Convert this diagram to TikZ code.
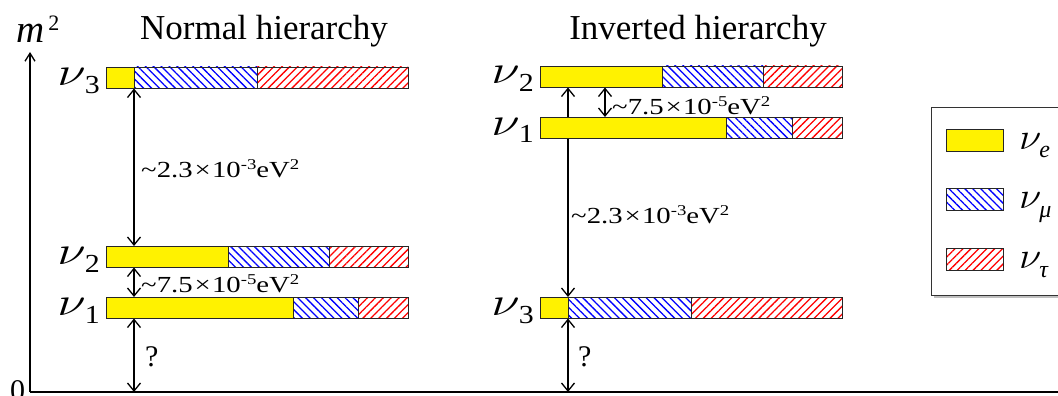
\RequirePackage{fix-cm}
\documentclass[tikz,border=0pt]{standalone}
\usepackage{fontspec}
\setmainfont{Liberation Serif}
\usetikzlibrary{arrows.meta,patterns.meta,backgrounds}
\newcommand\nusym[2]{\scalebox{#2}[1]{\fontsize{#1}{#1}\selectfont$\nu$}}
\newcommand\nulab[1]{\nusym{40}{1.3}\kern-1pt\raisebox{-8pt}{\scalebox{1.15}[1]{\fontsize{26}{30}\selectfont #1}}}
\newcommand\nuleg[1]{\nusym{37}{1.1}\kern-2pt\raisebox{-9pt}{\fontsize{24}{30}\selectfont\itshape #1}}
\newcommand\dmsq[2]{\scalebox{1.25}[1]{\textasciitilde#1\kern1.5pt×\kern1pt10\raisebox{8pt}{\fontsize{15}{18}\selectfont -#2}eV\raisebox{8pt}{\fontsize{15}{18}\selectfont 2}}}
\newcommand\mixbar[6]{%
  \path[yfill] (#2,#3) rectangle (#4,#3+21.5);
  \path[mufill] (#4,#3) rectangle (#5,#3+21.5);
  \path[taufill] (#5,#3) rectangle (#6,#3+21.5);
  \draw[divline] (#4,#3) -- (#4,#3+21.5);
  \draw[divline] (#5,#3) -- (#5,#3+21.5);
  \node[barframe, minimum width={#6pt-#2pt}] (#1) at (#2,#3) {};%
}
\begin{document}
\begin{tikzpicture}[x=1pt,y=-1pt,
  yfill/.style={fill=yellow},
  mufill/.style={pattern={Lines[angle=-45,distance=5.6pt,line width=1.3pt]},pattern color=blue},
  taufill/.style={pattern={Lines[angle=45,distance=5.6pt,line width=1.3pt]},pattern color=red},
  barframe/.style={draw=black!85,line width=0.9pt,inner sep=0pt,outer sep=0pt,anchor=north west,minimum height=21.5pt},
  divline/.style={draw=black!85,line width=0.9pt},
  dbl/.style={{Straight Barb[length=8pt,width=13pt,line width=1.3pt]}-{Straight Barb[length=8pt,width=13pt,line width=1.3pt]},line width=1.3pt},
  axis/.style={line width=1.8pt},
  title/.style={font=\fontsize{35}{40}\selectfont,inner sep=0pt},
  lab/.style={font=\fontsize{23}{28}\selectfont,inner sep=0pt,anchor=base west},
  nul/.style={inner sep=0pt,anchor=base east},
  legsw/.style={draw=black!85,line width=0.9pt,inner sep=0pt,minimum width=57pt,minimum height=21.5pt,anchor=north west}
]
\useasboundingbox (0,0) rectangle (1058,396);

% axes
\coordinate (O) at (30,392);
\coordinate (Ytop) at (30,52);
\coordinate (Xend) at (1060,392);
\draw[axis,-{Straight Barb[length=8pt,width=10pt,line width=1.3pt]}] (O) -- (Ytop);
\draw[axis] (O) -- (Xend);
\node[inner sep=0pt,anchor=base west] (m2) at (16,43) {{\fontsize{39}{42}\selectfont\itshape m}\kern4pt\raisebox{13pt}{\fontsize{22}{24}\selectfont 2}};
\node[inner sep=0pt,anchor=north,font=\fontsize{30}{34}\selectfont] (zero) at (17.5,380) {0};

% titles
\node[title,anchor=base] (tn) at (264,40) {Normal hierarchy};
\node[title,anchor=base] (ti) at (698,40) {Inverted hierarchy};

% normal hierarchy bars
\mixbar{N3}{106}{67}{134}{257}{408}
\mixbar{N2}{106}{246}{228}{329}{408}
\mixbar{N1}{106}{297}{293}{358}{408}
\node[nul] (lN3) at (100,85) {\nulab{3}};
\node[nul] (lN2) at (100,264) {\nulab{2}};
\node[nul] (lN1) at (100,315) {\nulab{1}};

% inverted hierarchy bars
\mixbar{I2}{540}{66}{662}{763}{842}
\mixbar{I1}{540}{117}{726}{792}{842}
\mixbar{I3}{540}{297}{568}{691}{842}
\node[nul] (lI2) at (534,84) {\nulab{2}};
\node[nul] (lI1) at (534,135) {\nulab{1}};
\node[nul] (lI3) at (534,315) {\nulab{3}};

% arrows
\coordinate (xa) at (134,0);
\coordinate (xb) at (568,0);
\coordinate (xc) at (605,0);
\begin{scope}[on background layer]
\fill[white] (0,0) rectangle (1058,396);
\draw[dbl] (N3.south -| xa) -- (N2.north -| xa);
\draw[dbl] (N2.south -| xa) -- (N1.north -| xa);
\draw[dbl] (N1.south -| xa) -- (O -| xa);
\draw[dbl] (I2.south -| xb) -- (I3.north -| xb);
\draw[dbl] (I2.south -| xc) -- (I1.north -| xc);
\draw[dbl] (I3.south -| xb) -- (O -| xb);
\end{scope}

% labels
\node[lab] (dN31) at (141,177) {\dmsq{2.3}{3}};
\node[lab] (dN21) at (141,292) {\dmsq{7.5}{5}};
\node[lab] (dI21) at (612,114) {\dmsq{7.5}{5}};
\node[lab] (dI13) at (571,223) {\dmsq{2.3}{3}};
\node[lab,font=\fontsize{30}{34}\selectfont] (qN) at (145,366) {?};
\node[lab,font=\fontsize{30}{34}\selectfont] (qI) at (578,366) {?};

% legend
\fill[black!25] (934,110) rectangle (1070,298);
\node[draw=black!80,fill=white,line width=1pt,inner sep=0pt,minimum width=150pt,minimum height=188pt,anchor=north west] (leg) at (931,107) {};
\node[legsw,fill=yellow] (sE) at (946,129) {};
\node[legsw,mufill] (sM) at (946,188) {};
\node[legsw,taufill] (sT) at (946,248) {};
\node[nul,anchor=base west] (lE) at (1019,149) {\nuleg{e}};
\node[nul,anchor=base west] (lM) at (1019,208) {\nuleg{μ}};
\node[nul,anchor=base west] (lT) at (1019,268) {\nuleg{τ}};
\end{tikzpicture}
\end{document}
